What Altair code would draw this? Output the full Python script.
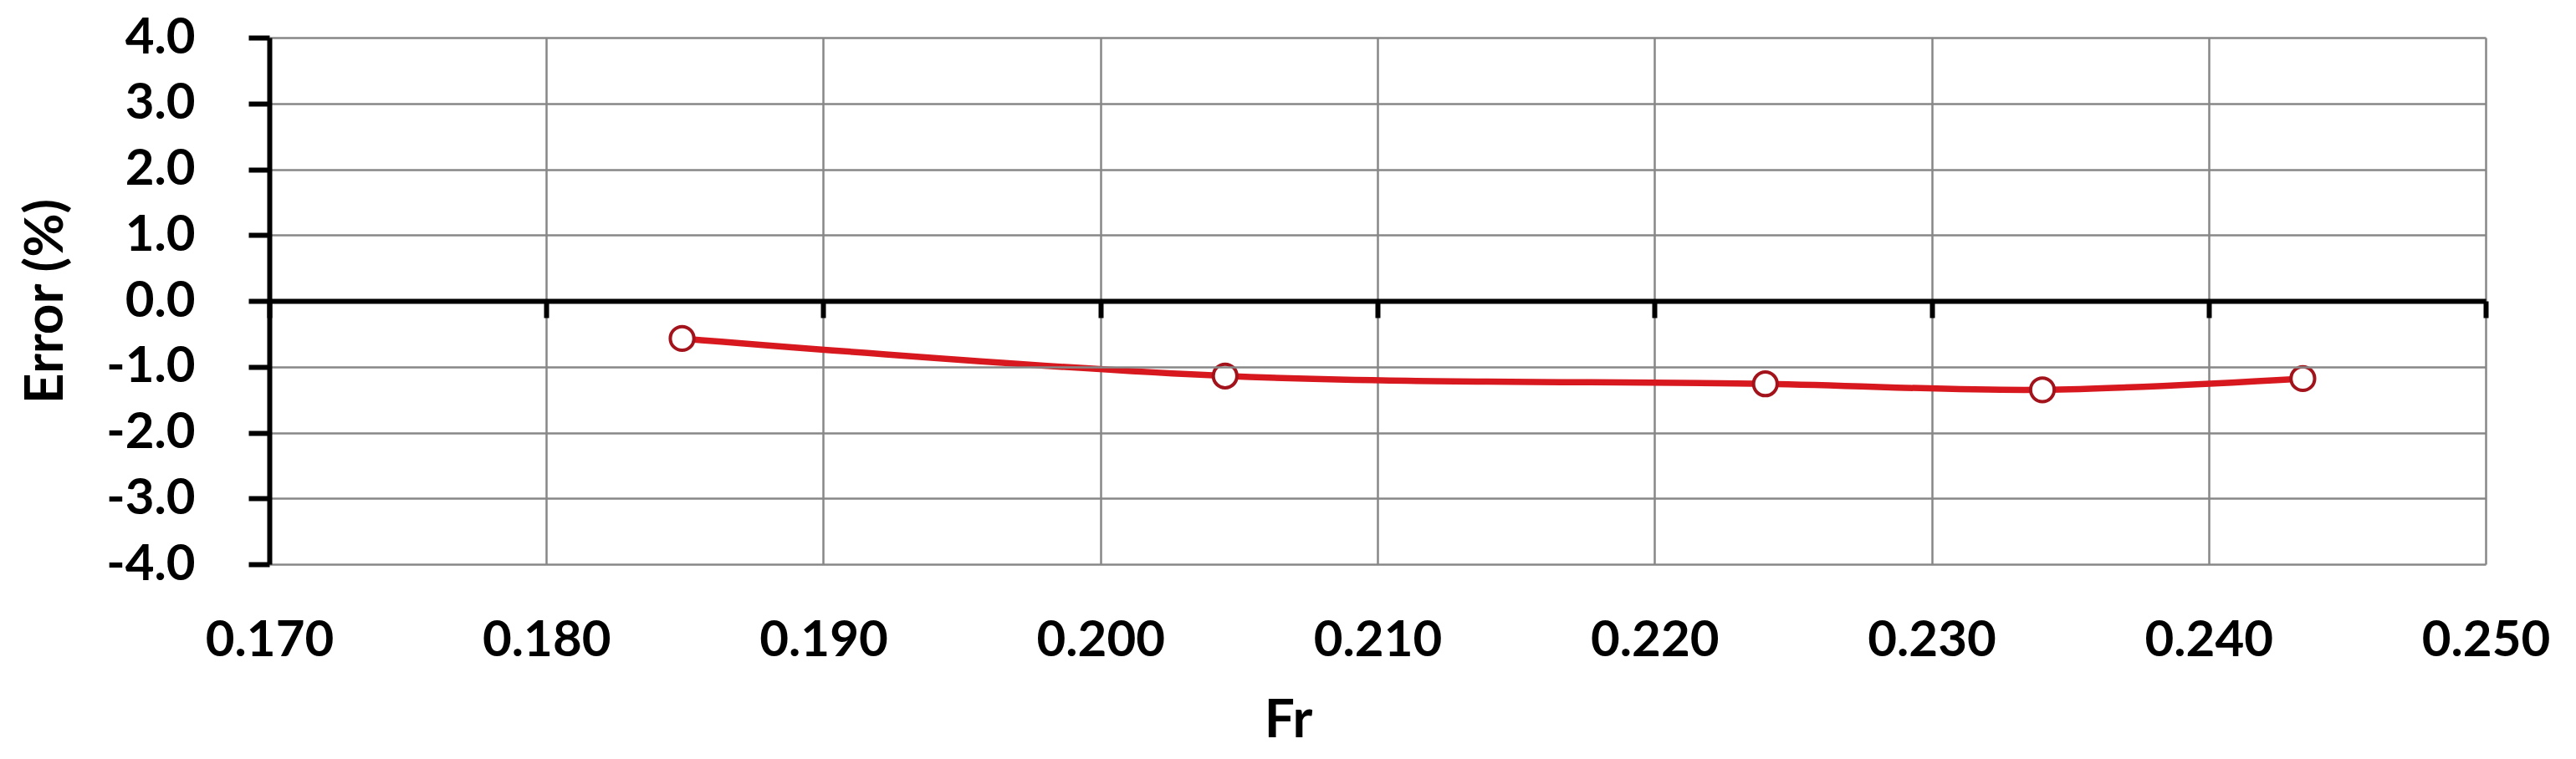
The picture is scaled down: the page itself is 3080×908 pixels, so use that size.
import altair as alt
import pandas as pd

# Data
fr = [0.1849, 0.2045, 0.2240, 0.2340, 0.2434]
err = [-0.57, -1.14, -1.26, -1.35, -1.18]
x_ticks = [0.17, 0.18, 0.19, 0.20, 0.21, 0.22, 0.23, 0.24, 0.25]
y_ticks = [-4, -3, -2, -1, 0, 1, 2, 3, 4]

df = pd.DataFrame({"Fr": fr, "Error": err})

FONT = "Lato"
GRID = "#878787"

x_scale = alt.Scale(domain=[0.17, 0.25], nice=False, zero=False)
y_scale = alt.Scale(domain=[-4, 4], nice=False, zero=False)

y_axis = alt.Axis(
    values=y_ticks,
    title="Error (%)",
    labelExpr="replace(format(datum.value, '.1f'), '\u2212', '-')",
    grid=True, gridColor=GRID, gridWidth=2.5,
    domain=True, domainColor="black", domainWidth=6,
    ticks=True, tickColor="black", tickSize=25, tickWidth=6,
    labelPadding=64, labelFont=FONT, labelFontSize=60, labelFontWeight="bold",
    labelColor="black",
    titleFont=FONT, titleFontSize=64, titleFontWeight="bold", titleColor="black",
    titleX=-267, titleY=315, titleAlign="center", titleBaseline="middle",
    zindex=1,
)
y_enc = alt.Y("Error:Q", scale=y_scale, axis=y_axis)

x_main = alt.X(
    "Fr:Q", scale=x_scale,
    axis=alt.Axis(
        values=x_ticks, format=".3f", labelOverlap=False, labelFlush=False,
        grid=True, gridColor=GRID, gridWidth=2.5,
        domain=False, ticks=False,
        labelPadding=91, labelBaseline="middle",
        labelFont=FONT, labelFontSize=60, labelFontWeight="bold", labelColor="black",
        title="Fr", titleFont=FONT, titleFontSize=64, titleFontWeight="bold",
        titleColor="black", titleX=1218, titleY=187, titleAlign="center",
        titleBaseline="middle",
    ),
)
x_zero = alt.X(
    "Fr:Q", scale=x_scale,
    axis=alt.Axis(
        orient="bottom", offset=-315, values=x_ticks, labels=False, grid=False,
        domain=True, domainColor="black", domainWidth=6,
        ticks=True, tickColor="black", tickSize=20, tickWidth=6,
        title=None, zindex=1,
    ),
)

line = alt.Chart(df).mark_line(
    color="#d7191f", strokeWidth=7.5, interpolate="catmull-rom"
).encode(x=x_main, y=y_enc)

points = alt.Chart(df).mark_point(
    shape="circle", filled=True, fill="white", stroke="#a3131b",
    strokeWidth=4, size=800, opacity=1,
).encode(x=x_zero, y=y_enc)

chart = (
    alt.layer(line, points)
    .resolve_axis(x="independent")
    .properties(
        width=2650, height=630,
        autosize=alt.AutoSizeParams(type="none"),
        padding={"left": 314, "top": 37, "right": 100, "bottom": 225},
        background="white",
    )
    .configure_view(stroke=None)
)

chart.save("out.html", embed_options={"renderer": "svg", "actions": False})
